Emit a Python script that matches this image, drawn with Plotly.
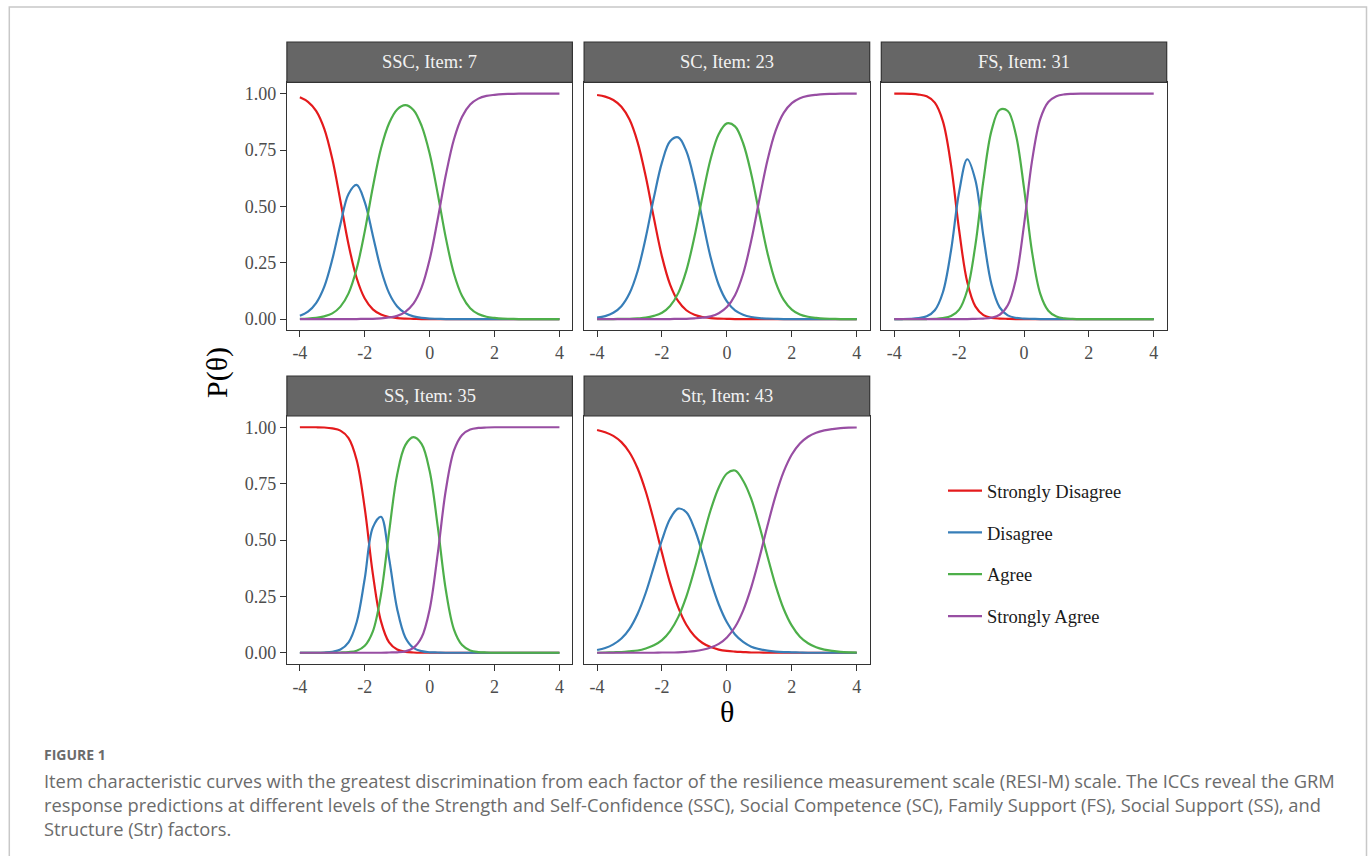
import plotly.graph_objects as go

W, H = 1370, 856


def px_x(x):
    return x / W


def px_y(y):
    return 1 - y / H


# ---------------- data ----------------
THETA = [-4.0, -3.75, -3.5, -3.25, -3.0, -2.75, -2.5, -2.25, -2.0, -1.75, -1.5,
         -1.25, -1.0, -0.75, -0.5, -0.25, 0.0, 0.25, 0.5, 0.75, 1.0, 1.25, 1.5,
         1.75, 2.0, 2.25, 2.5, 2.75, 3.0, 3.25, 3.5, 3.75, 4.0]

CATEGORIES = ["Strongly Disagree", "Disagree", "Agree", "Strongly Agree"]
PANEL_TITLES = ["SSC, Item: 7", "SC, Item: 23", "FS, Item: 31", "SS, Item: 35", "Str, Item: 43"]
X_TICKS = [-4, -2, 0, 2, 4]
X_TICK_LABELS = ["-4", "-2", "0", "2", "4"]
Y_TICKS = [0, 0.25, 0.5, 0.75, 1.0]
Y_TICK_LABELS = ["0.00", "0.25", "0.50", "0.75", "1.00"]
X_TITLE = "θ"
Y_TITLE = "P(θ)"
CAPTION_LABEL = "FIGURE 1"
CAPTION_LINES = [
    "Item characteristic curves with the greatest discrimination from each factor of the resilience measurement scale (RESI-M) scale. The ICCs reveal the GRM",
    "response predictions at different levels of the Strength and Self-Confidence (SSC), Social Competence (SC), Family Support (FS), Social Support (SS), and",
    "Structure (Str) factors.",
]

# SSC, Item 7
SSC_SD = [.984, .964, .924, .845, .710, .524, .331, .182, .091, .043, .020, .009, .004, .002, .001,
          0, 0, 0, 0, 0, 0, 0, 0, 0, 0, 0, 0, 0, 0, 0, 0, 0, 0]
SSC_D = [.015, .033, .071, .143, .265, .421, .555, .595, .519, .370, .220, .115, .056, .026, .012,
         .005, .002, .001, 0, 0, 0, 0, 0, 0, 0, 0, 0, 0, 0, 0, 0, 0, 0]
SSC_A = [.001, .002, .005, .012, .025, .055, .114, .223, .389, .586, .757, .869, .930, .949, .928,
         .858, .734, .555, .359, .201, .102, .048, .022, .010, .005, .002, .001, 0, 0, 0, 0, 0, 0]
SSC_SA = [0, 0, 0, 0, 0, 0, 0, 0, .001, .001, .003, .007, .014, .032, .068, .139, .264, .444,
          .640, .798, .898, .952, .978, .990, .995, .998, .999, 1, 1, 1, 1, 1, 1]

# SC, Item 23
SC_SD = [.994, .987, .972, .942, .885, .784, .632, .448, .277, .153, .079, .039, .019, .009, .004,
         .002, .001, 0, 0, 0, 0, 0, 0, 0, 0, 0, 0, 0, 0, 0, 0, 0, 0]
SC_D = [.006, .013, .028, .057, .114, .213, .362, .539, .695, .789, .806, .745, .613, .439, .273,
        .151, .078, .038, .019, .009, .004, .002, .001, 0, 0, 0, 0, 0, 0, 0, 0, 0, 0]
SC_A = [0, 0, 0, .001, .001, .003, .006, .014, .028, .058, .115, .215, .365, .546, .711, .821,
        .868, .855, .780, .644, .466, .293, .164, .085, .042, .020, .010, .005, .002, .001, 0, 0, 0]
SC_SA = [0, 0, 0, 0, 0, 0, 0, 0, 0, 0, .001, .001, .003, .006, .012, .026, .053, .106, .201, .348,
         .530, .705, .835, .915, .958, .980, .990, .995, .998, .999, 1, 1, 1]

# FS, Item 31
FS_SD = [1, 1, .999, .996, .988, .960, .877, .683, .394, .164, .056, .017, .005, .002, .001,
         0, 0, 0, 0, 0, 0, 0, 0, 0, 0, 0, 0, 0, 0, 0, 0, 0, 0]
FS_D = [0, 0, .001, .004, .012, .039, .119, .304, .564, .709, .617, .365, .152, .052, .016,
        .005, .002, .001, 0, 0, 0, 0, 0, 0, 0, 0, 0, 0, 0, 0, 0, 0, 0]
FS_A = [0, 0, 0, 0, 0, .001, .004, .013, .042, .128, .327, .616, .837, .928, .923, .818, .582,
        .296, .113, .037, .011, .003, .001, 0, 0, 0, 0, 0, 0, 0, 0, 0, 0]
FS_SA = [0, 0, 0, 0, 0, 0, 0, 0, 0, 0, .001, .002, .006, .019, .061, .177, .417, .704, .887,
         .963, .989, .997, .999, 1, 1, 1, 1, 1, 1, 1, 1, 1, 1]

# SS, Item 35
SS_SD = [1, 1, 1, .999, .995, .985, .952, .855, .640, .349, .139, .046, .014, .004, .001,
         0, 0, 0, 0, 0, 0, 0, 0, 0, 0, 0, 0, 0, 0, 0, 0, 0, 0]
SS_D = [0, 0, 0, .001, .004, .014, .046, .135, .329, .556, .603, .418, .193, .068, .022,
        .007, .002, .001, 0, 0, 0, 0, 0, 0, 0, 0, 0, 0, 0, 0, 0, 0, 0]
SS_A = [0, 0, 0, 0, 0, .001, .003, .009, .031, .095, .258, .535, .791, .921, .956, .926, .806,
        .559, .277, .103, .034, .010, .003, .001, 0, 0, 0, 0, 0, 0, 0, 0, 0]
SS_SA = [0, 0, 0, 0, 0, 0, 0, 0, 0, 0, 0, .001, .002, .006, .021, .067, .192, .440, .723, .897,
         .966, .990, .997, .999, 1, 1, 1, 1, 1, 1, 1, 1, 1]

# Str, Item 43
STR_SD = [.988, .978, .962, .934, .888, .817, .715, .585, .443, .309, .201, .124, .074, .043, .025,
          .014, .008, .005, .003, .001, .001, 0, 0, 0, 0, 0, 0, 0, 0, 0, 0, 0, 0]
STR_D = [.012, .021, .037, .063, .106, .173, .266, .382, .500, .594, .639, .623, .550, .440, .320,
         .214, .135, .081, .048, .027, .016, .009, .005, .003, .002, .001, 0, 0, 0, 0, 0, 0, 0]
STR_A = [0, .001, .002, .003, .006, .010, .019, .033, .056, .096, .158, .249, .369, .504, .633,
         .733, .795, .808, .763, .682, .563, .428, .299, .194, .120, .071, .042, .024, .014, .008,
         .004, .002, .001]
STR_SA = [0, 0, 0, 0, 0, 0, 0, 0, .001, .001, .002, .004, .007, .013, .023, .039, .068, .114,
          .187, .290, .420, .563, .696, .803, .879, .928, .958, .976, .986, .992, .996, .998, .999]

PANEL_SERIES = [
    [SSC_SD, SSC_D, SSC_A, SSC_SA],
    [SC_SD, SC_D, SC_A, SC_SA],
    [FS_SD, FS_D, FS_A, FS_SA],
    [SS_SD, SS_D, SS_A, SS_SA],
    [STR_SD, STR_D, STR_A, STR_SA],
]

# ---------------- style / layout ----------------
COLORS = ["#E41A1C", "#377EB8", "#4DAF4A", "#984EA3"]
SERIF = "Liberation Serif, 'Times New Roman', Times, serif"
SANS = "'Open Sans', Lato, 'Noto Sans', sans-serif"

COL_X = [(286.9, 572.4), (584.1, 869.7), (881.3, 1166.7)]
ROW_Y = [(82.4, 330.3), (416.0, 664.0)]
STRIP_Y = [(42.0, 82.4), (376.0, 416.0)]
PANEL_POS = [(0, 0), (1, 0), (2, 0), (0, 1), (1, 1)]

fig = go.Figure()
layout = dict(
    width=W, height=H, autosize=False,
    margin=dict(l=0, r=0, t=0, b=0),
    paper_bgcolor="white", plot_bgcolor="white",
    showlegend=True,
    legend=dict(
        x=px_x(943), y=px_y(472), xanchor="left", yanchor="top",
        font=dict(family=SERIF, size=18.5, color="#1a1a1a"),
        bgcolor="rgba(0,0,0,0)", borderwidth=0,
        traceorder="grouped", tracegroupgap=14.8, itemwidth=34,
    ),
)

shapes = []
annotations = []

for k, (title, series) in enumerate(zip(PANEL_TITLES, PANEL_SERIES)):
    col, row = PANEL_POS[k]
    xname = "xaxis" if k == 0 else f"xaxis{k + 1}"
    yname = "yaxis" if k == 0 else f"yaxis{k + 1}"
    xref = "x" if k == 0 else f"x{k + 1}"
    yref = "y" if k == 0 else f"y{k + 1}"
    x0, x1 = COL_X[col]
    ytop, ybot = ROW_Y[row]

    for c, (cat, vals) in enumerate(zip(CATEGORIES, series)):
        fig.add_trace(go.Scatter(
            x=THETA, y=vals, mode="lines", name=cat,
            line=dict(color=COLORS[c], width=2.2, shape="spline", smoothing=1.0),
            xaxis=xref, yaxis=yref,
            legendgroup=cat, showlegend=(k == 0),
            hoverinfo="skip",
        ))

    layout[xname] = dict(
        domain=[px_x(x0), px_x(x1)], anchor=yref,
        range=[-4.4, 4.4], tickmode="array", tickvals=X_TICKS, ticktext=X_TICK_LABELS,
        showgrid=False, zeroline=False, showline=True, mirror=True,
        linecolor="#333333", linewidth=1,
        ticks="outside", ticklen=6, tickwidth=1.4, tickcolor="#333333",
        tickfont=dict(family=SERIF, size=18, color="#4d4d4d"),
        fixedrange=True,
    )
    layout[yname] = dict(
        domain=[px_y(ybot), px_y(ytop)], anchor=xref,
        range=[-0.05, 1.05], tickmode="array", tickvals=Y_TICKS, ticktext=Y_TICK_LABELS,
        showgrid=False, zeroline=False, showline=True, mirror=True,
        linecolor="#333333", linewidth=1,
        ticks="outside" if col == 0 else "", ticklen=6, tickwidth=1.4, tickcolor="#333333",
        showticklabels=(col == 0),
        tickfont=dict(family=SERIF, size=18, color="#4d4d4d"),
        fixedrange=True,
    )

    st, sb = STRIP_Y[row]
    shapes.append(dict(
        type="rect", xref="paper", yref="paper",
        x0=px_x(x0), x1=px_x(x1), y0=px_y(sb), y1=px_y(st),
        fillcolor="#666666", line=dict(color="#333333", width=1.2), layer="above",
    ))
    annotations.append(dict(
        text=title, xref="paper", yref="paper",
        x=px_x((x0 + x1) / 2), y=px_y((st + sb) / 2),
        xanchor="center", yanchor="middle", showarrow=False,
        font=dict(family=SERIF, size=18.5, color="#f2f2f2"),
    ))

# axis titles
annotations.append(dict(
    text=X_TITLE, xref="paper", yref="paper", x=px_x(727), y=px_y(711),
    xanchor="center", yanchor="middle", showarrow=False,
    font=dict(family=SERIF, size=30, color="#000000"),
))
annotations.append(dict(
    text=Y_TITLE, xref="paper", yref="paper", x=px_x(217), y=px_y(373),
    xanchor="center", yanchor="middle", showarrow=False, textangle=-90,
    font=dict(family=SERIF, size=30, color="#000000"),
))

# caption
annotations.append(dict(
    text=f"<b>{CAPTION_LABEL}</b>", xref="paper", yref="paper", x=px_x(42), y=px_y(754),
    xanchor="left", yanchor="middle", showarrow=False,
    font=dict(family=SANS, size=14, color="#6b6b6b"),
))
for i, line in enumerate(CAPTION_LINES):
    annotations.append(dict(
        text=line, xref="paper", yref="paper", x=px_x(42), y=px_y(780 + 24 * i),
        xanchor="left", yanchor="middle", showarrow=False,
        font=dict(family=SANS, size=18.3, color="#6b6b6b"),
    ))

# outer frame of the figure box
shapes.append(dict(
    type="rect", xref="paper", yref="paper",
    x0=px_x(9.3), x1=px_x(1366.5), y0=px_y(880), y1=px_y(7),
    fillcolor="rgba(0,0,0,0)", line=dict(color="#c8c8c8", width=1.5), layer="below",
))

layout["shapes"] = shapes
layout["annotations"] = annotations
fig.update_layout(**layout)

fig.write_html(
    "out.html",
    config={"displayModeBar": False},
    post_script="document.body.style.margin='0px';",
)
